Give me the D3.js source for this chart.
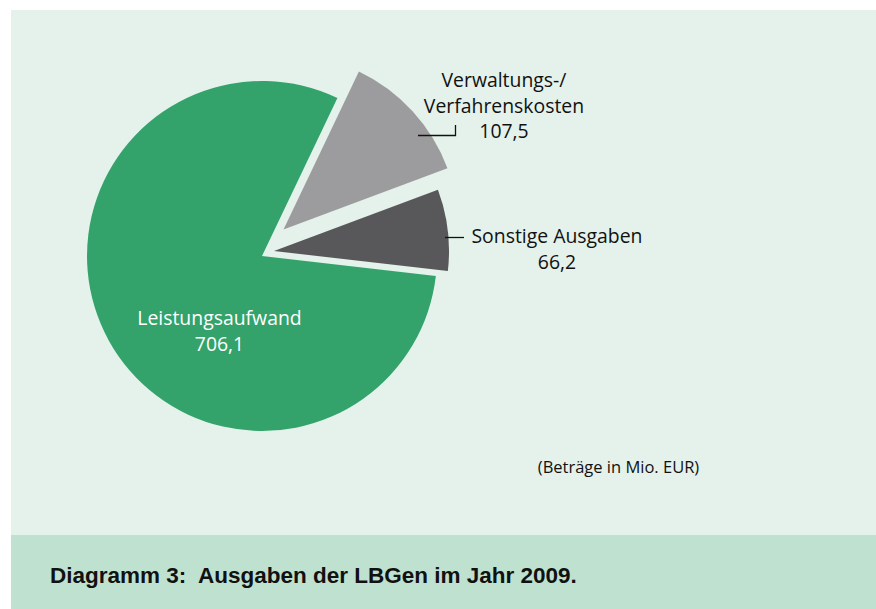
<!DOCTYPE html>
<html><head><meta charset="utf-8">
<script src="https://cdn.jsdelivr.net/npm/d3@7"></script>
<style>body{margin:0;background:#fff}svg{display:block}</style>
</head><body>
<script>
const categories = ["Leistungsaufwand", "Verwaltungs-/Verfahrenskosten", "Sonstige Ausgaben"];
const values = [706.1, 107.5, 66.2];
const valueLabels = ["706,1", "107,5", "66,2"];
const labelLines = [["Leistungsaufwand"], ["Verwaltungs-/", "Verfahrenskosten"], ["Sonstige Ausgaben"]];
const colors = ["#33a36b", "#9c9c9e", "#58585a"];
const titleText = "Diagramm 3:  Ausgaben der LBGen im Jahr 2009.";
const noteText = "(Beträge in Mio. EUR)";

const W = 876, H = 609;
const svg = d3.select("body").append("svg").attr("width", W).attr("height", H);
svg.append("rect").attr("x", 11).attr("y", 10).attr("width", W - 11).attr("height", 525).attr("fill", "#e4f2eb");
svg.append("rect").attr("x", 11).attr("y", 535).attr("width", W - 11).attr("height", H - 535).attr("fill", "#bfe1d0");

const cx = 262, cy = 256, R = 175;
const explode = [[0, 0], [21.5, -26.5], [12, -5]];
const startDeg = 96.6;
const pie = d3.pie().sort(null).value(d => d)
  .startAngle(startDeg * Math.PI / 180).endAngle((startDeg + 360) * Math.PI / 180);
const arcs = pie(values);
const arc = d3.arc().innerRadius(0).outerRadius(R);

const g = svg.append("g").attr("transform", `translate(${cx},${cy})`);
g.selectAll("path").data(arcs).enter().append("path")
  .attr("d", arc)
  .attr("fill", (d, i) => colors[i])
  .attr("transform", (d, i) => `translate(${explode[i][0]},${explode[i][1]})`);

const font = "'Open Sans', sans-serif";
const fs = 19.4;
function label(lines, x, y, color, size) {
  const t = svg.append("text").attr("text-anchor", "middle").attr("font-family", font)
    .attr("font-size", size).attr("fill", color);
  lines.forEach((l, i) => t.append("tspan").attr("x", x).attr("y", y + i * 25.5).text(l));
}
// Leistungsaufwand
label([labelLines[0][0], valueLabels[0]], 219.5, 325, "#fff", fs);
// Verwaltungs
label([...labelLines[1], valueLabels[1]], 504, 87, "#111", fs);
// Sonstige
label([labelLines[2][0], valueLabels[2]], 557, 243, "#111", fs);

svg.append("polyline").attr("points", "418,135.5 455.5,135.5 455.5,125")
  .attr("fill", "none").attr("stroke", "#111").attr("stroke-width", 1.3);
svg.append("line").attr("x1", 445).attr("x2", 464).attr("y1", 237.5).attr("y2", 237.5)
  .attr("stroke", "#111").attr("stroke-width", 1.3);

svg.append("text").attr("x", 618.5).attr("y", 473).attr("text-anchor", "middle")
  .attr("font-family", font).attr("font-size", 16.5).attr("fill", "#111").text(noteText);

svg.append("text").attr("x", 50).attr("y", 583).attr("font-family", "'Liberation Sans', Arial, sans-serif")
  .attr("font-weight", "bold").attr("font-size", 22.5).attr("fill", "#111")
  .style("white-space", "pre").attr("xml:space", "preserve").text(titleText);
</script>
</body></html>
